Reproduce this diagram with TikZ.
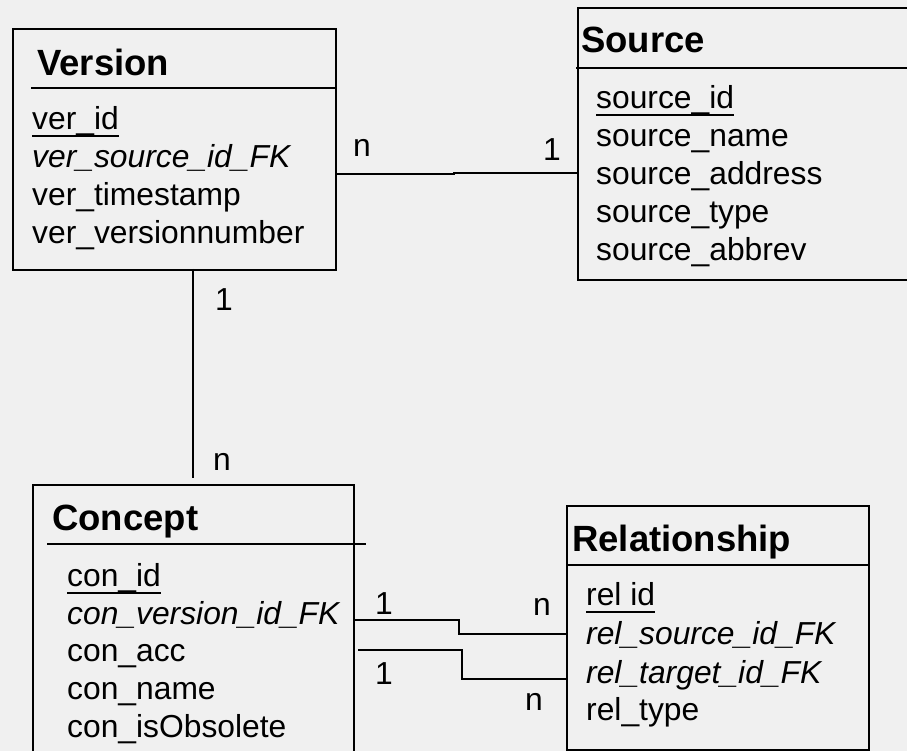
\documentclass[tikz,border=0pt]{standalone}
\usepackage{fontspec}
\setmainfont{Liberation Sans}
\definecolor{paper}{HTML}{F0F0F0}
\definecolor{ink}{HTML}{000000}

% a primary-key field: text plus a rule under it
\newcommand\keyfield[3]{%
  \node[field] (#1) at (#2) {#3};
  \draw[keyrule] ([yshift=-6.5pt]#1.base west) -- ([yshift=-6.5pt]#1.base east);}

\begin{document}
\begin{tikzpicture}[x=1pt,y=-1pt,
  entity/.style={draw=ink, line width=2pt, anchor=north west, inner sep=0pt},
  divider/.style={draw=ink, line width=2pt},
  link/.style={draw=ink, line width=1.5pt},
  keyrule/.style={draw=ink, line width=2pt},
  title/.style={anchor=base west, inner sep=0pt, font=\fontsize{36.5}{40}\selectfont\bfseries},
  field/.style={anchor=base west, inner sep=0pt, font=\fontsize{31.8}{38}\selectfont},
  fkfield/.style={field, font=\fontsize{31.8}{38}\selectfont\itshape},
  card/.style={field}]

  % canvas
  \fill[paper] (0,0) rectangle (907,751);
  \useasboundingbox (0,0) rectangle (907,751);

  % ---------- Version ----------
  \node[entity, minimum width=323pt, minimum height=241pt] (version) at (12,28) {};
  \node[title] (versionT) at (37,76) {Version};
  \draw[divider] (31,88) -- (335,88);
  \keyfield{v1}{32,130}{ver\_id}
  \node[fkfield] (v2) at (32,168) {ver\_source\_id\_FK};
  \node[field] (v3) at (32,206) {ver\_timestamp};
  \node[field] (v4) at (32,244) {ver\_versionnumber};

  % ---------- Source ----------
  \node[entity, minimum width=333pt, minimum height=272pt] (source) at (577,7) {};
  \node[title] (sourceT) at (581,53) {Source};
  \draw[divider] (576,68) -- (912,68);
  \keyfield{s1}{596,109}{source\_id}
  \node[field] (s2) at (596,147) {source\_name};
  \node[field] (s3) at (596,185) {source\_address};
  \node[field] (s4) at (596,223) {source\_type};
  \node[field] (s5) at (596,261) {source\_abbrev};

  % ---------- Concept ----------
  \node[entity, minimum width=321pt, minimum height=280pt] (concept) at (32,484) {};
  \node[title] (conceptT) at (52,530) {Concept};
  \draw[divider] (47,544) -- (366,544);
  \keyfield{c1}{67,586}{con\_id}
  \node[fkfield] (c2) at (67,624) {con\_version\_id\_FK};
  \node[field] (c3) at (67,661) {con\_acc};
  \node[field] (c4) at (67,699) {con\_name};
  \node[field] (c5) at (67,737) {con\_isObsolete};

  % ---------- Relationship ----------
  \node[entity, minimum width=302pt, minimum height=244pt] (relation) at (566,505) {};
  \node[title] (relationT) at (572,551) {Relationship};
  \draw[divider] (566,565) -- (868,565);
  \keyfield{r1}{586,605}{rel id}
  \node[fkfield] (r2) at (586,644) {rel\_source\_id\_FK};
  \node[fkfield] (r3) at (586,683) {rel\_target\_id\_FK};
  \node[field] (r4) at (586,720) {rel\_type};

  % ---------- connector end points ----------
  \coordinate (vsA) at (335,174);
  \coordinate (vsB) at (577,173);
  \coordinate (vcA) at (193,269);
  \coordinate (vcB) at (193,478);
  \coordinate (crA) at (353,620);
  \coordinate (crB) at (566,634);
  \coordinate (ctA) at (358,650);
  \coordinate (ctB) at (566,679);

  % Version n -- 1 Source
  \draw[link] (vsA) -- (454,174) -- (454,173) -- (vsB);
  \node[card] (vsN) at (353,157) {n};
  \node[card] (vs1) at (543,161) {1};

  % Version 1 -- n Concept
  \draw[link] (vcA) -- (vcB);
  \node[card] (vc1) at (215,310) {1};
  \node[card] (vcN) at (213,470) {n};

  % Concept 1 -- n Relationship (source)
  \draw[link] (crA) -- (459,620) -- (459,634) -- (crB);
  \node[card] (cr1) at (375,614) {1};
  \node[card] (crN) at (533,615) {n};

  % Concept 1 -- n Relationship (target)
  \draw[link] (ctA) -- (462,650) -- (462,679) -- (ctB);
  \node[card] (ct1) at (375,684) {1};
  \node[card] (ctN) at (525,710) {n};
\end{tikzpicture}
\end{document}
